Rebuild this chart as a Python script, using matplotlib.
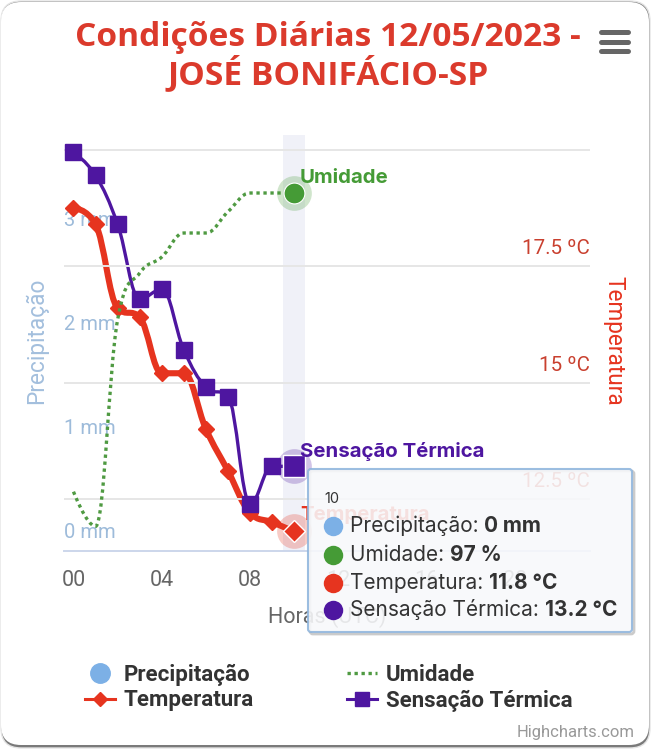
import matplotlib.pyplot as plt
from matplotlib.patches import FancyBboxPatch, PathPatch
from matplotlib.path import Path

hours = [0, 1, 2, 3, 4, 5, 6, 7, 8, 9, 10]
precipitacao = [0, 0, 0, 0, 0, 0, 0, 0, 0, 0, 0]
umidade = [74.6, 72, 87.5, 91, 92.2, 94, 94, 95.6, 97, 97, 97]
temperatura = [18.75, 18.4, 16.6, 16.4, 15.2, 15.2, 14.0, 13.1, 12.2, 12.0, 11.8]
sensacao = [19.95, 19.45, 18.4, 16.8, 17.0, 15.7, 14.9, 14.7, 12.4, 13.2, 13.2]

hour_ticks = [0, 4, 8, 12, 16, 20]
hour_labels = ["00", "04", "08", "12", "16", "20"]
precip_ticks = [0, 1, 2, 3]
precip_labels = ["0 mm", "1 mm", "2 mm", "3 mm"]
temp_ticks = [12.5, 15, 17.5, 20]
temp_labels = ["12.5 ºC", "15 ºC", "17.5 ºC"]

tooltip_rows = ["Precipitação: ", "Umidade: ", "Temperatura: ", "Sensação Térmica: "]
tooltip_values = ["0 mm", "97 %", "11.8 °C", "13.2 °C"]

BLUE = "#7CB0E6"
GREEN = "#459B36"
RED = "#E6341F"
PURPLE = "#4E16A0"
W, H = 652, 750


def spline(x, y, color, lw, **kwargs):
    # Kurve durch die Punkte zeichnen
    verts = [(x[0], y[0])]
    codes = [Path.MOVETO]
    right = (x[0], y[0])
    for i in range(1, len(x)):
        left = (x[i], y[i])
        next_right = (x[i], y[i])
        if i < len(x) - 1:
            lx = (1.5 * x[i] + x[i - 1]) / 2.5
            ly = (1.5 * y[i] + y[i - 1]) / 2.5
            rx = (1.5 * x[i] + x[i + 1]) / 2.5
            ry = (1.5 * y[i] + y[i + 1]) / 2.5
            shift = (ry - ly) * (rx - x[i]) / (rx - lx) + y[i] - ry
            ly += shift
            ry += shift
            # Kein Ueberschwingen
            if ly > y[i - 1] and ly > y[i]:
                ly = max(y[i - 1], y[i])
                ry = 2 * y[i] - ly
            elif ly < y[i - 1] and ly < y[i]:
                ly = min(y[i - 1], y[i])
                ry = 2 * y[i] - ly
            if ry > y[i + 1] and ry > y[i]:
                ry = max(y[i + 1], y[i])
                ly = 2 * y[i] - ry
            elif ry < y[i + 1] and ry < y[i]:
                ry = min(y[i + 1], y[i])
                ly = 2 * y[i] - ry
            left = (lx, ly)
            next_right = (rx, ry)
        verts += [right, left, (x[i], y[i])]
        codes += [Path.CURVE4] * 3
        right = next_right
    plt.gca().add_patch(PathPatch(Path(verts, codes), fc="none", ec=color, lw=lw, **kwargs))


def main():
    plt.rcParams["font.family"] = ["Roboto", "DejaVu Sans"]

    # Karte und Titel
    plt.figure(figsize=(W / 100, H / 100), dpi=100, facecolor="white")
    plt.axes([0, 0, 1, 1], zorder=0)
    plt.xlim(0, W)
    plt.ylim(H, 0)
    plt.axis("off")
    plt.gca().add_patch(FancyBboxPatch((1, 1), 649, 747, boxstyle="round,pad=0,rounding_size=20", fc="#7A7A7A", ec="#E4E4E4", lw=1))
    plt.gca().add_patch(FancyBboxPatch((1, 2), 648, 743, boxstyle="round,pad=0,rounding_size=20", fc="white", ec="none"))
    plt.text(328, 37, "Condições Diárias 12/05/2023 -", color="#DB3A2C", fontsize=24.1, weight="bold",
             family="Open Sans", ha="center", va="center")
    plt.text(328, 74, "JOSÉ BONIFÁCIO-SP", color="#DB3A2C", fontsize=24.1, weight="bold",
             family="Open Sans", ha="center", va="center")
    for y in [32, 42, 51]:
        plt.plot([601, 628], [y, y], color="#666666", lw=3.6, solid_capstyle="round")
    plt.text(635, 733, "Highcharts.com", color="#999999", fontsize=12, ha="right", va="center")

    # Niederschlag: linke Achse
    ax = plt.axes([64 / W, 1 - 551 / H, 526 / W, 416 / H], zorder=1)
    ax.patch.set_alpha(0)
    plt.axvspan(9.5, 10.5, color="#F0F1F8", lw=0)
    plt.bar(hours, precipitacao, color=BLUE)
    precip_handle, = plt.plot([], [], "o", color=BLUE, ms=14, label="Precipitação")
    plt.xlim(-0.43, 23.4)
    plt.ylim(0, 4)
    plt.xticks(hour_ticks, hour_labels, color="#666666", fontsize=15.5)
    plt.yticks([])
    plt.tick_params(axis="x", length=0, pad=14)
    for spine in ["top", "left", "right"]:
        plt.gca().spines[spine].set_visible(False)
    plt.gca().spines["bottom"].set_color("#CCD6EB")
    plt.gca().spines["bottom"].set_linewidth(1.4)
    plt.ylabel("Precipitação", color="#A3BFDD", fontsize=16.3)
    plt.gca().yaxis.set_label_coords(-0.03, 0.506)
    plt.xlabel("Horas (UTC)", color="#666666", fontsize=15.5)
    plt.gca().xaxis.set_label_coords(0.5, -0.131)
    for tick, label in zip(precip_ticks, precip_labels):
        plt.annotate(label, xy=(0, tick), xycoords=plt.gca().get_yaxis_transform(), xytext=(0, 13),
                     textcoords="offset points", color="#9DBBDA", fontsize=14.5, ha="left", va="center")

    # Temperatur: rechte Achse
    ax_temp = plt.twinx()
    plt.ylim(11.38, 20.32)
    plt.yticks(temp_ticks, [])
    plt.grid(True, axis="y", color="#E6E6E6", lw=1.4)
    plt.tick_params(axis="y", length=0)
    for spine in ax_temp.spines.values():
        spine.set_visible(False)
    plt.ylabel("Temperatura", color=RED, fontsize=16.3, rotation=270, va="center")
    ax_temp.yaxis.set_label_coords(1.045, 0.506)
    for tick, label in zip(temp_ticks, temp_labels):
        plt.annotate(label, xy=(1, tick), xycoords=ax_temp.get_yaxis_transform(), xytext=(0, 12.5),
                     textcoords="offset points", color="#C9402F", fontsize=14.8, ha="right", va="center")
    plt.plot(hours[-1], temperatura[-1], "o", color=RED, alpha=0.25, ms=25, mew=0)
    spline(hours, temperatura, RED, 4.4)
    plt.plot(hours, temperatura, "D", color=RED, ms=8)
    temp_handle, = plt.plot([], [], "-D", color=RED, lw=2.2, ms=7.5, label="Temperatura")
    plt.plot(hours[-1], temperatura[-1], "D", color=RED, ms=11, mec="white", mew=1)
    plt.plot(hours[-1], sensacao[-1], "o", color=PURPLE, alpha=0.25, ms=25, mew=0)
    spline(hours, sensacao, PURPLE, 2.4)
    plt.plot(hours, sensacao, "s", color=PURPLE, ms=11)
    sens_handle, = plt.plot([], [], "-s", color=PURPLE, lw=2.2, ms=10.5, label="Sensação Térmica")
    plt.plot(hours[-1], sensacao[-1], "s", color=PURPLE, ms=15.5, mec="white", mew=1)
    plt.annotate("Sensação Térmica", xy=(hours[-1], sensacao[-1]), xytext=(4, 11), textcoords="offset points",
                 color=PURPLE, fontsize=14.7, weight="bold", family="Inter", va="center")
    plt.annotate("Temperatura", xy=(hours[-1], temperatura[-1]), xytext=(4, 12), textcoords="offset points",
                 color=RED, fontsize=14.7, weight="bold", family="Inter", va="center")

    # Luftfeuchte: versteckte Achse
    ax_umid = plt.twinx()
    plt.ylim(70.15, 101.35)
    plt.yticks([])
    for spine in ax_umid.spines.values():
        spine.set_visible(False)
    plt.plot(hours[-1], umidade[-1], "o", color=GREEN, alpha=0.25, ms=25, mew=0)
    spline(hours, umidade, "#4F9A42", 2.4, linestyle=(0, (1, 1.1)))
    umid_handle, = plt.plot([], [], color="#4F9A42", lw=2.4, linestyle=(0, (1, 1.1)), label="Umidade")
    plt.plot(hours[-1], umidade[-1], "o", color=GREEN, ms=15, mec="white", mew=0.8)
    plt.annotate("Umidade", xy=(hours[-1], umidade[-1]), xytext=(4, 10.5), textcoords="offset points",
                 color=GREEN, fontsize=14.7, weight="bold", family="Inter", va="center")

    # Legende
    plt.figlegend(handles=[precip_handle, temp_handle, umid_handle, sens_handle], ncol=2, frameon=False,
                  loc="upper left", bbox_to_anchor=(85 / W, 1 - 664 / H), labelcolor="#333333",
                  prop={"weight": "bold", "size": 16}, handlelength=1.35, handletextpad=0.4, columnspacing=4.17,
                  labelspacing=0.15, borderpad=0, borderaxespad=0)

    # Tooltip
    plt.axes([0, 0, 1, 1], zorder=5)
    plt.xlim(0, W)
    plt.ylim(H, 0)
    plt.axis("off")
    plt.gca().patch.set_alpha(0)
    plt.gca().add_patch(FancyBboxPatch((310, 471), 324, 163, boxstyle="round,pad=0,rounding_size=3",
                                       fc="none", ec="#999999", lw=2, alpha=0.5))
    plt.gca().add_patch(FancyBboxPatch((308, 469), 324, 163, boxstyle="round,pad=0,rounding_size=3",
                                       fc="#F8F9FB", ec="#8FB5DD", lw=1.5, alpha=0.88))
    plt.text(324, 499, "10", color="#333333", fontsize=10.5, family="Inter", va="center")
    colors = [BLUE, GREEN, RED, PURPLE]
    for i, row in enumerate(tooltip_rows):
        y = [526, 555, 583, 610][i]
        plt.plot(333, y, "o", color=colors[i], ms=14, mew=0)
        label = plt.text(350, y, row, color="#333333", fontsize=15, family="Inter", va="center")
        plt.annotate(tooltip_values[i], xy=(1, 0.5), xycoords=label, color="#333333", fontsize=15,
                     weight="bold", family="Inter", va="center")

    # Grafik speichern
    plt.savefig("out.png", dpi=100)


if __name__ == "__main__":
    main()
